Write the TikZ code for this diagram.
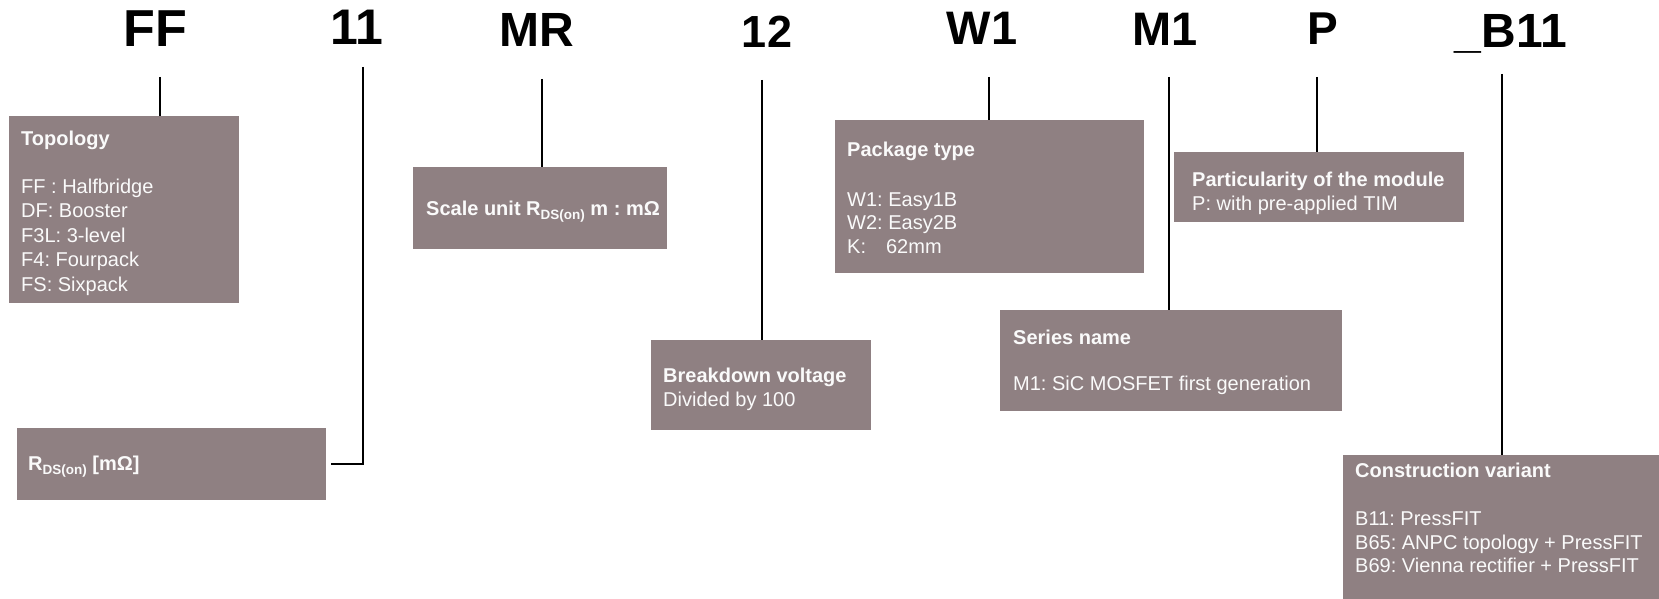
\documentclass[tikz,border=0pt]{standalone}
\usepackage{fontspec}
\setmainfont{Liberation Sans}
\frenchspacing
\definecolor{boxfill}{RGB}{143,128,130}
\definecolor{boxtext}{RGB}{250,250,250}
\tikzset{
  code/.style={anchor=base, inner sep=0pt, font=\bfseries},
  infobox/.style={anchor=north west, fill=boxfill, draw=none, inner sep=0pt},
  head/.style={anchor=base west, inner sep=0pt, text=boxtext, font=\fontsize{20}{23}\selectfont\bfseries},
  item/.style={anchor=base west, inner sep=0pt, text=boxtext, font=\fontsize{20}{23}\selectfont},
  link/.style={line width=2pt, black},
}
\newcommand{\rdson}{R\raisebox{-4pt}{\fontsize{13.5}{13.5}\selectfont DS(on)}}
\begin{document}
\begin{tikzpicture}[x=1pt,y=-1pt]
\useasboundingbox (0,0) rectangle (1659,599);
% codes
\node[code, font=\fontsize{52}{52}\selectfont\bfseries] (tFF) at (155,47) {FF};
\node[code, font=\fontsize{50}{50}\selectfont\bfseries] (t11) at (357,45) {11};
\node[code, font=\fontsize{48}{48}\selectfont\bfseries] (tMR) at (537,47) {MR};
\node[code, font=\fontsize{45}{45}\selectfont\bfseries] (t12) at (767,48) {12};
\node[code, font=\fontsize{47}{47}\selectfont\bfseries] (tW1) at (982,45) {W1};
\node[code, font=\fontsize{47}{47}\selectfont\bfseries] (tM1) at (1165,46) {M1};
\node[code, font=\fontsize{46}{46}\selectfont\bfseries] (tP) at (1323,45) {P};
\node[code, font=\fontsize{48}{48}\selectfont\bfseries] (tB11) at (1511,48) {\_B11};
% boxes
\node[infobox, minimum width=230.5pt, minimum height=187pt] (topo) at (8.5,116) {};
\node[infobox, minimum width=254pt, minimum height=82pt] (scale) at (413,167) {};
\node[infobox, minimum width=309pt, minimum height=72pt] (rds) at (17,428) {};
\node[infobox, minimum width=220pt, minimum height=90pt] (bv) at (651,340) {};
\node[infobox, minimum width=309pt, minimum height=153pt] (pkg) at (835,120) {};
\node[infobox, minimum width=342pt, minimum height=101pt] (ser) at (1000,310) {};
\node[infobox, minimum width=290pt, minimum height=70pt] (part) at (1174,152) {};
\node[infobox, minimum width=316pt, minimum height=144pt] (cons) at (1343,455) {};
% texts
\node[head] (topoH) at (21,146) {Topology};
\node[item] (topo1) at (21,193) {FF : Halfbridge};
\node[item] (topo2) at (21,217.5) {DF: Booster};
\node[item] (topo3) at (21,242) {F3L: 3-level};
\node[item] (topo4) at (21,266.5) {F4: Fourpack};
\node[item] (topo5) at (21,291) {FS: Sixpack};
\node[head] (scaleH) at (426,215) {Scale unit \rdson{} m : m\symbol{"03A9}};
\node[head] (rdsH) at (28,470) {\rdson{} [m\symbol{"03A9}]};
\node[head] (bvH) at (663,382) {Breakdown voltage};
\node[item] (bv1) at (663,406) {Divided by 100};
\node[head] (pkgH) at (847,157) {Package type};
\node[item] (pkg1) at (847,206) {W1: Easy1B};
\node[item] (pkg2) at (847,229.5) {W2: Easy2B};
\node[item] (pkg3) at (847,253) {K:\hspace{20pt}62mm};
\node[head] (serH) at (1013,344) {Series name};
\node[item] (ser1) at (1013,390) {M1: SiC MOSFET first generation};
\node[head] (partH) at (1192,186) {Particularity of the module};
\node[item] (part1) at (1192,210) {P: with pre-applied TIM};
\node[head] (consH) at (1355,477) {Construction variant};
\node[item] (cons1) at (1355,525) {B11: PressFIT};
\node[item] (cons2) at (1355,549) {B65: ANPC topology + PressFIT};
\node[item] (cons3) at (1355,572) {B69: Vienna rectifier + PressFIT};
% connector start points
\coordinate (cFF) at (160,77);
\coordinate (c11) at (363,67);
\coordinate (c11e) at (331,464);
\coordinate (cMR) at (542,79);
\coordinate (c12) at (762,80);
\coordinate (cW1) at (989,77);
\coordinate (cM1) at (1169,77);
\coordinate (cP) at (1317,77);
\coordinate (cB11) at (1502,74);
% connectors
\draw[link] (cFF) -- (cFF |- topo.north);
\draw[link] (c11) |- (c11e);
\draw[link] (cMR) -- (cMR |- scale.north);
\draw[link] (c12) -- (c12 |- bv.north);
\draw[link] (cW1) -- (cW1 |- pkg.north);
\draw[link] (cM1) -- (cM1 |- ser.north);
\draw[link] (cP) -- (cP |- part.north);
\draw[link] (cB11) -- (cB11 |- cons.north);
\end{tikzpicture}
\end{document}
